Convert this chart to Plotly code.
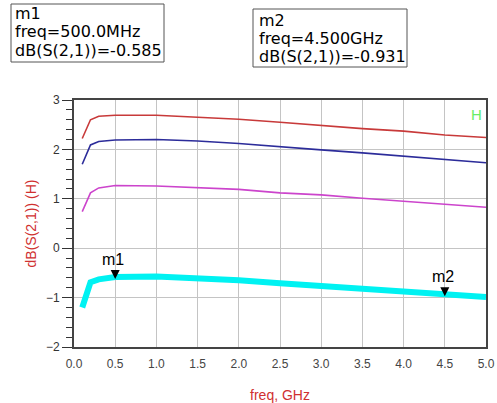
import plotly.graph_objects as go

# ---- data ----
freq_ghz = [0.1, 0.2, 0.3, 0.5, 1.0, 1.5, 2.0, 2.5, 3.0, 3.5, 4.0, 4.5, 5.0]
s21_red = [2.22, 2.60, 2.67, 2.69, 2.69, 2.65, 2.61, 2.55, 2.48, 2.42, 2.37, 2.29, 2.24]
s21_blue = [1.70, 2.09, 2.16, 2.19, 2.20, 2.17, 2.12, 2.05, 1.99, 1.93, 1.86, 1.79, 1.73]
s21_magenta = [0.74, 1.12, 1.22, 1.27, 1.26, 1.22, 1.19, 1.12, 1.08, 1.01, 0.95, 0.90, 0.83]
s21_cyan = [-1.20, -0.69, -0.63, -0.585, -0.575, -0.60, -0.65, -0.71, -0.76, -0.81, -0.86, -0.931, -0.99]

marker_names = ["m1", "m2"]
marker_freq = [0.5, 4.5]
marker_freq_text = ["500.0MHz", "4.500GHz"]
marker_db = [-0.585, -0.931]

x_ticks = [0.0, 0.5, 1.0, 1.5, 2.0, 2.5, 3.0, 3.5, 4.0, 4.5, 5.0]
y_ticks = [-2, -1, 0, 1, 2, 3]

# ---- figure ----
fig = go.Figure()
series = [
    (s21_red, "#c83a3a", 1.6),
    (s21_blue, "#2c2c9a", 1.6),
    (s21_magenta, "#cc44cc", 1.6),
    (s21_cyan, "#00f2f2", 6),
]
for ys, col, w in series:
    fig.add_trace(go.Scatter(x=freq_ghz, y=ys, mode="lines",
                             line=dict(color=col, width=w), hoverinfo="skip"))

# marker triangles (tip at the data point) and labels
fig.add_trace(go.Scatter(x=marker_freq, y=marker_db, mode="markers", hoverinfo="skip",
                         marker=dict(symbol="arrow-down", size=9, color="black",
                                     line=dict(width=0), standoff=2)))
for name, fx, db in zip(marker_names, marker_freq, marker_db):
    fig.add_annotation(x=fx, y=db, xref="x", yref="y", text=name, showarrow=False,
                       font=dict(family="Liberation Sans", size=16, color="black"),
                       yanchor="bottom", yshift=7, xshift=-2)

# marker readout boxes (paper coords; plot area 74..486 x 100..347 px)
W, H = 412.0, 247.0
def px(xp):
    return (xp - 74) / W
def py(yp):
    return (347 - yp) / H

boxes = [(11, 164, 4, 62, 13, [13.5, 31.7, 50.0]),
         (253, 407, 9, 67, 257, [20.0, 38.0, 56.0])]
for (x0, x1, y0, y1, tx, lines_y), name, ftxt, db in zip(boxes, marker_names, marker_freq_text, marker_db):
    fig.add_shape(type="rect", xref="paper", yref="paper",
                  x0=px(x0), x1=px(x1), y0=py(y1), y1=py(y0),
                  line=dict(color="#555555", width=1), fillcolor="white")
    texts = [name, "freq=" + ftxt, "dB(S(2,1))=%.3f" % db]
    for t, ly in zip(texts, lines_y):
        fig.add_annotation(x=px(tx), y=py(ly), xref="paper", yref="paper", text=t,
                           showarrow=False, xanchor="left", yanchor="middle",
                           font=dict(family="DejaVu Sans", size=16, color="black"))

# "H" tag
fig.add_annotation(x=px(476), y=py(114), xref="paper", yref="paper", text="H",
                   showarrow=False, xanchor="center", yanchor="middle",
                   font=dict(family="Liberation Sans", size=15, color="#66ee66"))

fig.update_layout(
    width=497, height=403,
    margin=dict(l=74, r=11, t=100, b=56),
    paper_bgcolor="white", plot_bgcolor="white",
    showlegend=False,
    font=dict(family="Liberation Sans", size=12, color="#333333"),
)
fig.update_xaxes(
    range=[0, 5], tickvals=x_ticks, ticktext=["%.1f" % v for v in x_ticks],
    showgrid=True, gridcolor="#c4c4c4", gridwidth=1,
    showline=True, linecolor="#444444", linewidth=2, mirror=True,
    ticks="outside", ticklen=5, tickcolor="rgba(0,0,0,0)",
    tickfont=dict(family="Liberation Sans", size=12, color="#444444"),
    zeroline=False, automargin=False,
    title=dict(text="freq, GHz", font=dict(family="Liberation Sans", size=14, color="#d03030"), standoff=20),
)
fig.update_yaxes(
    range=[-2, 3], tickvals=y_ticks,
    showgrid=True, gridcolor="#c4c4c4", gridwidth=1,
    showline=True, linecolor="#444444", linewidth=2, mirror=True,
    ticks="outside", ticklen=10, tickcolor="#333333",
    minor=dict(dtick=0.2, ticks="outside", ticklen=6, tickcolor="#333333", showgrid=False),
    tickfont=dict(family="Liberation Sans", size=12, color="#333333"),
    zeroline=False, automargin=False,
    title=dict(text="dB(S(2,1)) (H)", font=dict(family="Liberation Sans", size=14, color="#d03030"), standoff=6),
)

fig.write_html("out.html", config={"displayModeBar": False},
               post_script="document.body.style.margin='0';document.body.style.overflow='hidden';")
